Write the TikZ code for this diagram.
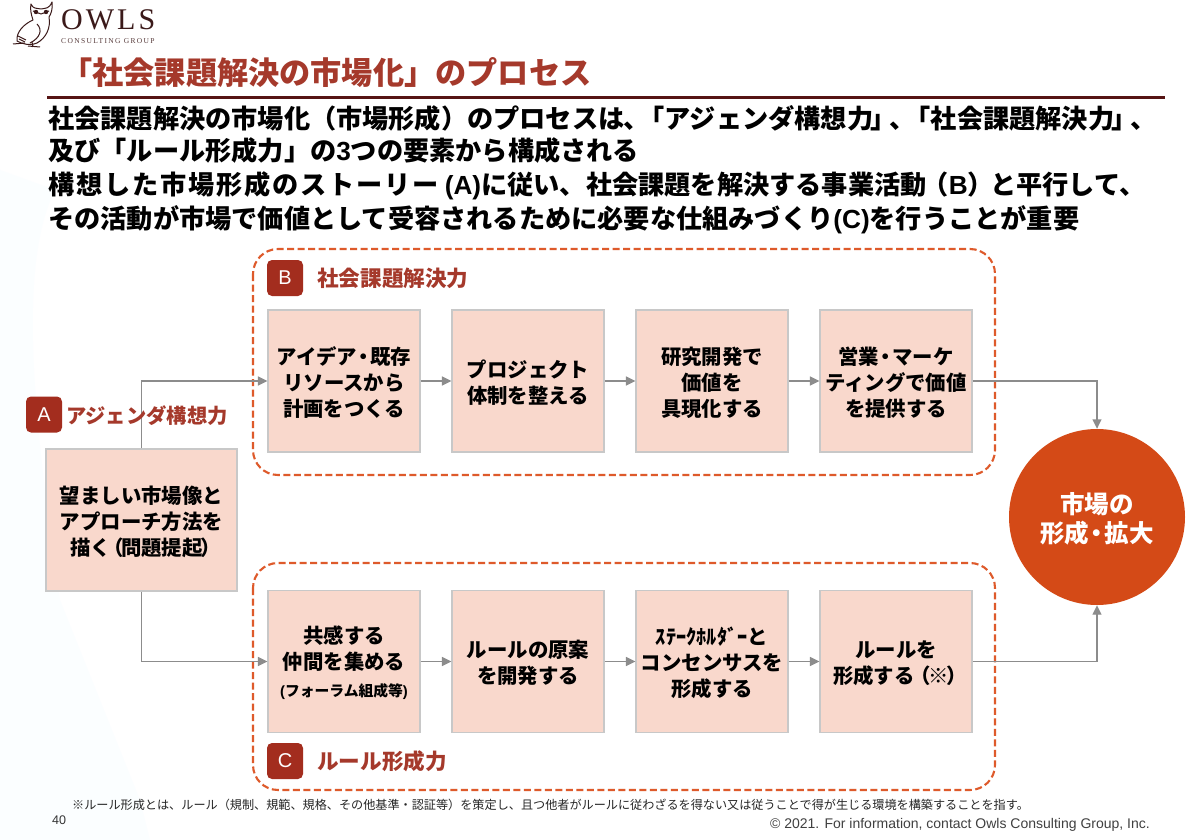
\documentclass[tikz,border=0pt]{standalone}
\usepackage{fontspec}
\usetikzlibrary{arrows.meta,calc}
\setmainfont{Noto Sans CJK JP}
\newfontfamily\lat{Liberation Sans}
\newfontfamily\serifl{Liberation Serif}
\newfontfamily\serifw[LetterSpace=10]{Liberation Serif}
\newfontfamily\serifs[LetterSpace=18]{Liberation Serif}
\definecolor{boxfill}{HTML}{F9D8CC}
\definecolor{boxline}{HTML}{C8C8C8}
\definecolor{arrowgray}{HTML}{8C8C8C}
\definecolor{dashred}{HTML}{DE5A2B}
\definecolor{badge}{HTML}{A32D1E}
\definecolor{titlered}{HTML}{A5392B}
\definecolor{circ}{HTML}{D44A17}
\definecolor{rulecol}{HTML}{561414}
\definecolor{owl}{HTML}{3B1A1A}
\definecolor{pale}{HTML}{FBFEFF}
\newcommand\mydot{\kern-.18em・\kern-.18em}
\newcommand\dn{\rule{0pt}{20.5pt}}
\tikzset{
  x=1pt,y=-1pt,
  procbox/.style={draw=boxline,line width=1.2pt,fill=boxfill,minimum width=152pt,minimum height=142pt,inner sep=0pt,align=center,font=\fontsize{20.4}{26}\selectfont\bfseries},
  link/.style={draw=arrowgray,line width=1.4pt,-{Triangle[length=9.5pt,width=9pt]}},
  group/.style={draw=dashred,line width=2.1pt,dash pattern=on 7pt off 3.5pt,rounded corners=25pt},
  badgebox/.style={fill=badge,rounded corners=5pt,minimum width=36pt,minimum height=36pt,inner sep=0pt,text=white,font=\lat\fontsize{20}{22}\selectfont},
  grouplabel/.style={text=titlered,anchor=west,inner sep=0pt,font=\fontsize{21.6}{24}\selectfont\bfseries},
  bodyline/.style={anchor=west,inner sep=0pt,text=black,font=\fontsize{26.2}{30}\selectfont\bfseries},
}
\begin{document}
\begin{tikzpicture}
\useasboundingbox (0,0) rectangle (1200,840);
\fill[white] (0,0) rectangle (1200,840);
\fill[pale] (0,170) -- (55,190) .. controls (20,260) and (30,400) .. (60,600) -- (140,800) -- (150,840) -- (0,840) -- cycle;
% logo
\begin{scope}[draw=owl,line width=1pt,line join=round]
 \draw[fill=white] (31,4) .. controls (33,9) and (36,8) .. (41,9) .. controls (46,8) and (49,9) .. (52,2) .. controls (53,9) and (51,14) .. (49,17) .. controls (51,28) and (46,38) .. (37,43) .. controls (30,46) and (22,44) .. (17,41) .. controls (16,32) and (24,24) .. (33,20) .. controls (31,14) and (30,9) .. (31,4) -- cycle;
 \fill[owl] (36,12) circle (2.2) (46,12) circle (2.2);
 \draw (33,11) -- (41,14) -- (49,11);
 \draw (37,24) .. controls (43,30) and (40,38) .. (30,43);
 \draw (13,44) -- (25,43) (28,46) -- (40,47) (32,42) -- (33,47);
 \draw (18,36) -- (26,40) (19,39) -- (25,42);
\end{scope}
\node[anchor=west,inner sep=0pt,text=owl,font=\serifw\fontsize{30}{32}\selectfont] (logotext) at (61,20) {OWLS};
\node[anchor=west,inner sep=0pt,text=owl!85,font=\serifs\fontsize{7.5}{9}\selectfont] (logosub) at (61,41) {CONSULTING GROUP};
% title
\node[anchor=west,inner sep=0pt,text=titlered,font=\fontsize{31.2}{34}\selectfont\bfseries] (title) at (61,73) {「社会課題解決の市場化」のプロセス};
\draw[rulecol,line width=3pt] (47,98) -- (1165,98);
% body
\node[bodyline] (l1) at (48,118) {社会課題解決の市場化（市場形成）のプロセスは\kern-.05em、\kern-.42em「アジェンダ構想力\kern-.1em」\kern-.28em、\kern-.42em「社会課題解決力\kern-.1em」\kern-.28em、};
\node[bodyline] (l2) at (48,151) {及び「ルール形成力」の{\lat 3}つの要素から構成される};
\node[bodyline] (l3) at (48,186) {{\addfontfeature{LetterSpace=7}構想した市場形成のストーリー} {\lat (A)}に従い、社会課題を解決する事業活動\kern-.15em（{\lat B}）\kern-.15emと平行して、};
\node[bodyline] (l4) at (48,220) {その活動が市場で価値として受容されるために必要な仕組みづくり{\lat (C)}を行うことが重要};
% groups
\draw[group] (253,249) rectangle (995,475);
\draw[group] (253,563) rectangle (995,790);
% boxes
\node[procbox,minimum width=191pt] (a) at (141.5,520) {\dn 望ましい市場像と\\アプローチ方法を\\描く\kern-.4em（\kern-.12em問題提起\kern-.12em）\kern-.4em};
\node[procbox] (b1) at (344,381) {\dn アイデア\mydot 既存\\リソースから\\計画をつくる};
\node[procbox] (b2) at (528,381) {\dn プロジェクト\\体制を整える};
\node[procbox] (b3) at (712,381) {\dn 研究開発で\\価値を\\具現化する};
\node[procbox] (b4) at (896,381) {\dn 営業\mydot マーケ\\ティングで価値\\を提供する};
\node[procbox] (c1) at (344,661.5) {\dn 共感する\\仲間を集める\\[1pt]{\fontsize{14.8}{18}\selectfont {\lat (}フォーラム組成等{\lat )}}};
\node[procbox] (c2) at (528,661.5) {\dn ルールの原案\\を開発する};
\node[procbox] (c3) at (712,661.5) {\dn ｽﾃｰｸﾎﾙﾀﾞｰと\\コンセンサスを\\形成する};
\node[procbox] (c4) at (896,661.5) {\dn ルールを\\形成する\kern-.2em（\kern-.12em※\kern-.12em）\kern-.4em};
\node[circle,fill=circ,minimum size=176pt,inner sep=0pt,align=center,text=white,font=\fontsize{24.5}{29}\selectfont\bfseries] (m) at (1097,517) {\rule{0pt}{24pt}市場の\\形成\mydot 拡大};
% connectors
\draw[link] (a.north) -- (a.north |- b1.west) -- (b1.west);
\draw[link] (a.south) -- (a.south |- c1.west) -- (c1.west);
\draw[link] (b1) -- (b2);
\draw[link] (b2) -- (b3);
\draw[link] (b3) -- (b4);
\draw[link] (c1) -- (c2);
\draw[link] (c2) -- (c3);
\draw[link] (c3) -- (c4);
\draw[link] (b4.east) -- (b4.east -| m.north) -- (m.north);
\draw[link] (c4.east) -- (c4.east -| m.south) -- (m.south);
% badges
\node[badgebox] (ba) at (44,414.5) {A};
\node[grouplabel,font=\fontsize{20.3}{24}\selectfont\bfseries] (la) at (66,416) {アジェンダ構想力};
\node[badgebox] (bb) at (285,278) {B};
\node[grouplabel] (lb) at (317,278) {社会課題解決力};
\node[badgebox] (bc) at (285,761) {C};
\node[grouplabel] (lc) at (317,761) {ルール形成力};
% foot
\node[anchor=west,inner sep=0pt,text=black!85,font=\fontsize{12.13}{14}\selectfont] (fn) at (72,805) {※ルール形成とは、ルール（規制、規範、規格、その他基準・認証等）を策定し、且つ他者がルールに従わざるを得ない又は従うことで得が生じる環境を構築することを指す。};
\node[anchor=west,inner sep=0pt,text=black!80,font=\lat\fontsize{12.5}{14}\selectfont] (pg) at (52,820) {40};
\node[anchor=east,inner sep=0pt,text=black!75,font=\lat\fontsize{14}{16}\selectfont] (cp) at (1150,825) {© 2021. For information, contact Owls Consulting Group, Inc.};
\end{tikzpicture}
\end{document}
